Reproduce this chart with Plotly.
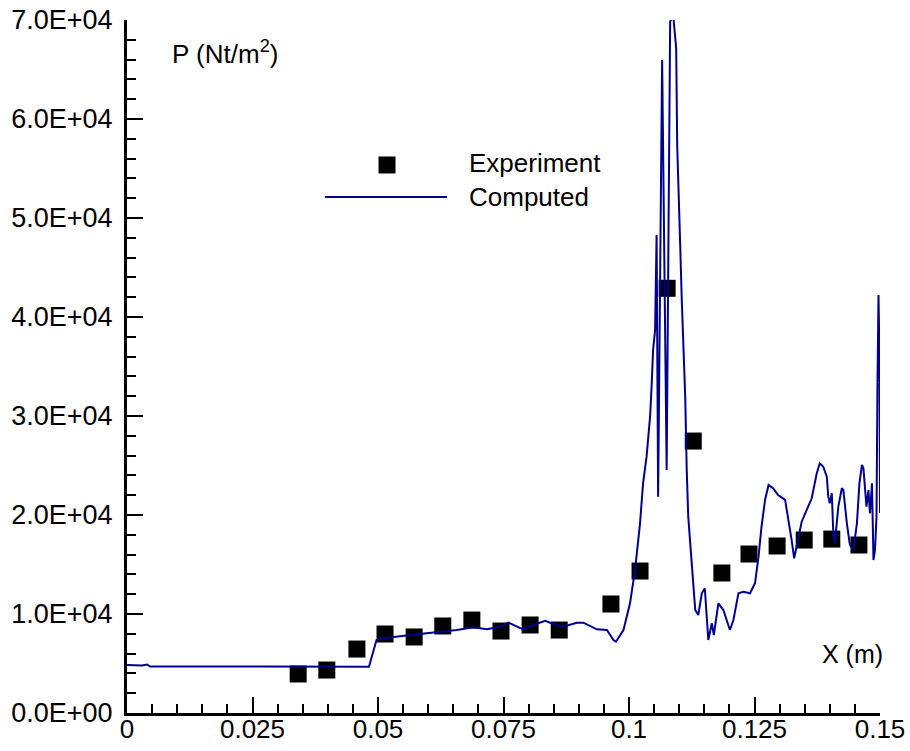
import plotly.graph_objects as go

# Experiment data (x in m, P in Nt/m^2)
x_exp = [0.0341, 0.0398, 0.0458, 0.0514, 0.0572, 0.0629, 0.0687, 0.0745, 0.0803, 0.0861,
         0.0964, 0.1022, 0.1076, 0.1128, 0.1185, 0.1239, 0.1295, 0.1349, 0.1404, 0.1458]
p_exp = [3940, 4340, 6460, 7980, 7680, 8790, 9390, 8280, 8890, 8380,
         11010, 14340, 42900, 27470, 14140, 16060, 16870, 17470, 17570, 16970]

# Computed curve
x_cmp = [0.0000, 0.0030, 0.0040, 0.0046, 0.0482, 0.0491, 0.0497, 0.0511, 0.0544, 0.0564,
         0.0597, 0.0630, 0.0657, 0.0690, 0.0717, 0.0743, 0.0760, 0.0789, 0.0809, 0.0833,
         0.0843, 0.0869, 0.0896, 0.0909, 0.0936, 0.0956, 0.0969, 0.0974, 0.0989, 0.1002,
         0.1012, 0.1022, 0.1028, 0.1035, 0.1042, 0.1045, 0.1048, 0.1052, 0.1053, 0.1055,
         0.1058, 0.1066, 0.1075, 0.1082, 0.1088, 0.1094, 0.1096, 0.1098, 0.1102, 0.1105,
         0.1112, 0.1115, 0.1118, 0.1125, 0.1132, 0.1138, 0.1145, 0.1151, 0.1155, 0.1158,
         0.1165, 0.1169, 0.1178, 0.1188, 0.1201, 0.1208, 0.1218, 0.1228, 0.1241, 0.1251,
         0.1258, 0.1264, 0.1271, 0.1278, 0.1287, 0.1297, 0.1311, 0.1317, 0.1324, 0.1329,
         0.1334, 0.1344, 0.1354, 0.1364, 0.1374, 0.1380, 0.1387, 0.1394, 0.1397, 0.1400,
         0.1404, 0.1407, 0.1410, 0.1417, 0.1424, 0.1427, 0.1434, 0.1440, 0.1447, 0.1454,
         0.1459, 0.1464, 0.1467, 0.1470, 0.1473, 0.1477, 0.1480, 0.1484, 0.1487, 0.1490,
         0.1493, 0.1495, 0.1497, 0.1499, 0.1500]
p_cmp = [4850, 4800, 4900, 4700, 4680, 6360, 7370, 7550, 7710, 7880,
         8050, 8210, 8380, 8660, 8450, 8720, 9120, 8450, 8890, 9320,
         9120, 8720, 9120, 9120, 8450, 8380, 7370, 7200, 8380, 11080,
         14440, 19160, 23200, 25890, 29930, 32960, 36670, 38690, 44950, 48280,
         21850, 65960, 24550, 69830, 70500, 67140, 57370, 53030, 47270, 41920,
         31950, 24550, 19830, 15120, 10400, 9900, 12090, 12600, 9060, 7370,
         9060, 7880, 11080, 10400, 8380, 9390, 12090, 12250, 12090, 13100,
         15790, 18820, 21520, 23030, 22700, 22020, 21520, 19830, 17470, 15630,
         16800, 19320, 20510, 21690, 24210, 25220, 24880, 23870, 21850, 21180,
         22190, 18150, 17140, 20840, 22700, 22530, 19160, 16970, 16460, 19160,
         23200, 25050, 24720, 22860, 20840, 22530, 20170, 23200, 15450, 16460,
         19830, 33330, 42220, 35990, 20200]

y_ticks = [0, 10000, 20000, 30000, 40000, 50000, 60000, 70000]
y_ticktext = ["0.0E+00", "1.0E+04", "2.0E+04", "3.0E+04", "4.0E+04", "5.0E+04", "6.0E+04", "7.0E+04"]
x_ticks = [0, 0.025, 0.05, 0.075, 0.1, 0.125, 0.15]
x_ticktext = ["0", "0.025", "0.05", "0.075", "0.1", "0.125", "0.15"]

FONT = "Liberation Sans, Arial, sans-serif"
LINE_COLOR = "#000090"

fig = go.Figure()
fig.add_trace(go.Scatter(x=x_exp, y=p_exp, mode="markers", name="Experiment",
                         marker=dict(symbol="square", size=17, color="black", line=dict(width=0)),
                         showlegend=False))
fig.add_trace(go.Scatter(x=x_cmp, y=p_cmp, mode="lines", name="Computed",
                         line=dict(color=LINE_COLOR, width=2), showlegend=False))

fig.update_xaxes(range=[0, 0.15], tickvals=x_ticks, ticktext=x_ticktext, automargin=False,
                 showline=True, linecolor="black", linewidth=3, mirror=False,
                 ticks="inside", ticklen=16, tickwidth=2, tickcolor="black", ticklabelstandoff=-9,
                 minor=dict(dtick=0.005, ticks="inside", ticklen=9, tickwidth=2, tickcolor="black"),
                 showgrid=False, zeroline=False,
                 tickfont=dict(family=FONT, size=26, color="black"))
fig.update_yaxes(range=[0, 70000], tickvals=y_ticks, ticktext=y_ticktext, automargin=False,
                 showline=True, linecolor="black", linewidth=3, mirror=False,
                 ticks="inside", ticklen=16, tickwidth=2, tickcolor="black", ticklabelstandoff=6,
                 minor=dict(dtick=2000, ticks="inside", ticklen=9, tickwidth=2, tickcolor="black"),
                 showgrid=False, zeroline=False,
                 tickfont=dict(family=FONT, size=27, color="black"))

shapes = [
    dict(type="rect", xref="paper", yref="paper", xsizemode="pixel", ysizemode="pixel",
         xanchor=0.3453, yanchor=0.7908, x0=-8.5, x1=8.5, y0=-8.5, y1=8.5,
         fillcolor="black", line=dict(width=0)),
    dict(type="line", xref="paper", yref="paper", x0=0.2629, x1=0.4250, y0=0.7446, y1=0.7446,
         line=dict(color=LINE_COLOR, width=2)),
]
annotations = [
    dict(text="Experiment", xref="paper", yref="paper", x=0.4515, y=0.7937,
         xanchor="left", yanchor="middle", showarrow=False,
         font=dict(family=FONT, size=26, color="black")),
    dict(text="Computed", xref="paper", yref="paper", x=0.4515, y=0.7446,
         xanchor="left", yanchor="middle", showarrow=False,
         font=dict(family=FONT, size=26, color="black")),
    dict(text="P (Nt/m<sup>2</sup>)", xref="paper", yref="paper", x=0.0571, y=0.9524,
         xanchor="left", yanchor="middle", showarrow=False,
         font=dict(family=FONT, size=26, color="black")),
    dict(text="X (m)", xref="paper", yref="paper", x=0.9203, y=0.0851,
         xanchor="left", yanchor="middle", showarrow=False,
         font=dict(family=FONT, size=25, color="black")),
]

fig.update_layout(width=910, height=751,
                  margin=dict(l=127, r=30, t=20, b=38),
                  paper_bgcolor="white", plot_bgcolor="white",
                  shapes=shapes, annotations=annotations,
                  font=dict(family=FONT, color="black"))

fig.write_html("out.html")
